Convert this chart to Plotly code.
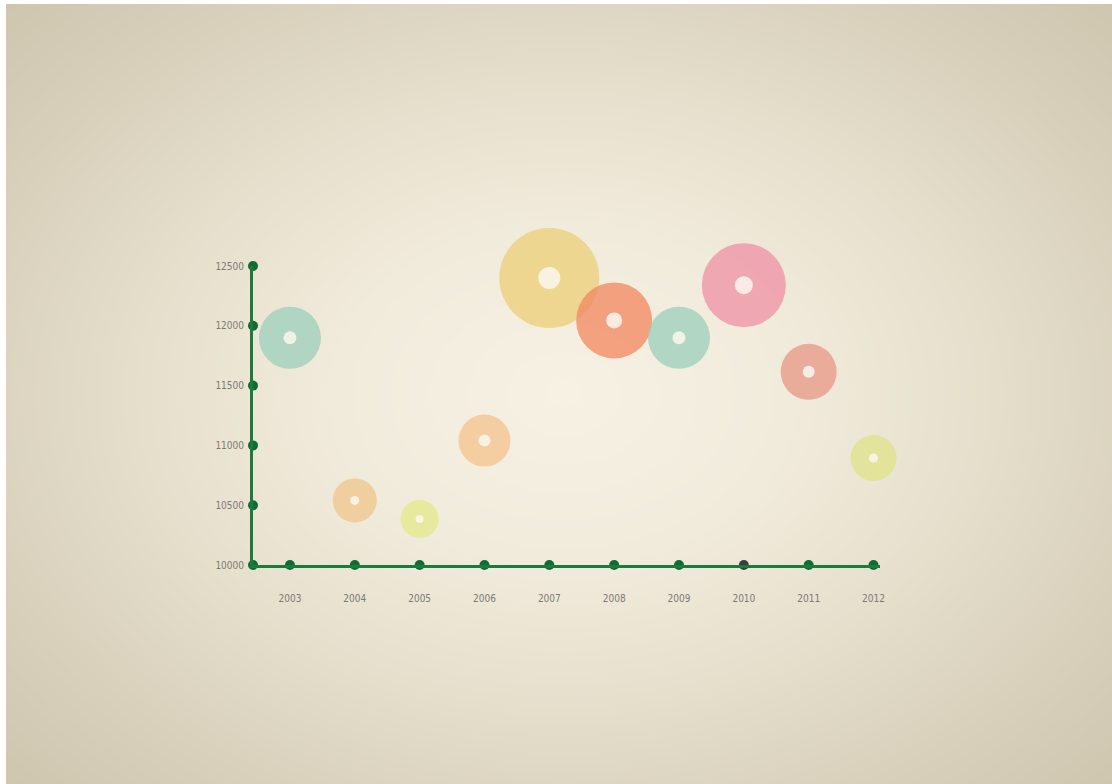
import numpy as np
import plotly.graph_objects as go

# ---- data ----
years = [2003, 2004, 2005, 2006, 2007, 2008, 2009, 2010, 2011, 2012]
values = [11900, 10540, 10385, 11040, 12400, 12045, 11900, 12340, 11615, 10895]
bubble_size = [62, 44, 38, 52, 100, 76, 62, 84, 56, 46]
hole_size = [13, 9, 8, 12, 22, 16, 13, 18, 12, 9]
bubble_colors = ["#9fd0bd", "#f0c78e", "#e4e88a", "#f4c48f", "#ecd07a",
                 "#f28a63", "#9fd0bd", "#ee93a6", "#e89a88", "#e0e38a"]
y_ticks = [10000, 10500, 11000, 11500, 12000, 12500]
y_tick_labels = ["10000", "10500", "11000", "11500", "12000", "12500"]
x_tick_labels = [str(y) for y in years]
dot_colors = ["#116b34"] * 7 + ["#3b3f3c"] + ["#116b34"] * 2

W, H = 1112, 784
X0 = 2002.43   # x-axis origin (where y axis sits)
X1 = 2012.1    # x-axis end

fig = go.Figure()

# ---- background radial gradient (decoration) ----
gx = np.linspace(0, W, 70)
gy = np.linspace(0, H, 50)
GX, GY = np.meshgrid(gx, gy)
cx, cy = 560, H - 392
d = np.sqrt(((GX - cx) / 640.0) ** 2 + ((GY - cy) / 470.0) ** 2)
fig.add_trace(go.Heatmap(
    x=gx, y=gy, z=np.clip(d, 0, 1.2), zsmooth="best", showscale=False,
    hoverinfo="skip", zmin=0, zmax=1.2,
    colorscale=[[0.0, "#f7f1e4"], [0.3, "#f1ebdc"], [0.55, "#e6dfcc"],
                [0.8, "#d8d0bb"], [1.0, "#cec6af"]],
    xaxis="x", yaxis="y"))

# ---- axes dots ----
fig.add_trace(go.Scatter(
    x=[X0] * len(y_ticks), y=y_ticks, mode="markers",
    marker=dict(size=10, color="#116b34"), cliponaxis=False,
    hoverinfo="skip", showlegend=False, xaxis="x2", yaxis="y2"))
fig.add_trace(go.Scatter(
    x=years, y=[10000] * len(years), mode="markers",
    marker=dict(size=10, color=dot_colors), cliponaxis=False,
    hoverinfo="skip", showlegend=False, xaxis="x2", yaxis="y2"))

# ---- bubbles (donuts) ----
fig.add_trace(go.Scatter(
    x=years, y=values, mode="markers",
    marker=dict(size=bubble_size, sizemode="diameter", color=bubble_colors,
                opacity=0.78, line=dict(width=0)),
    cliponaxis=False, showlegend=False, xaxis="x2", yaxis="y2"))
fig.add_trace(go.Scatter(
    x=years, y=values, mode="markers",
    marker=dict(size=hole_size, sizemode="diameter", color="#fbf7ee",
                opacity=0.85, line=dict(width=0)),
    cliponaxis=False, hoverinfo="skip", showlegend=False,
    xaxis="x2", yaxis="y2"))

tick_font = dict(family="Liberation Sans Narrow, DejaVu Sans Condensed, Arial Narrow, sans-serif",
                 size=10, color="#7b7a72")

fig.update_layout(
    width=W, height=H,
    margin=dict(l=0, r=0, t=0, b=0, pad=0, autoexpand=False),
    paper_bgcolor="#ffffff",
    plot_bgcolor="rgba(0,0,0,0)",
    showlegend=False,
    xaxis=dict(domain=[6 / W, 1], range=[0, W], visible=False, fixedrange=True,
               automargin=False),
    yaxis=dict(domain=[0, 1 - 4 / H], range=[0, H], visible=False, fixedrange=True,
               automargin=False),
    xaxis2=dict(domain=[253 / W, 880 / W], range=[X0, X1], anchor="y2",
                showgrid=False, zeroline=False, showline=True, automargin=False,
                linecolor="#1b7a3e", linewidth=3,
                tickvals=years, ticktext=x_tick_labels, ticks="",
                ticklabelstandoff=22, tickfont=tick_font),
    yaxis2=dict(domain=[219 / H, 518 / H], range=[10000, 12500], anchor="x2",
                showgrid=False, zeroline=False, showline=True, automargin=False,
                linecolor="#1b7a3e", linewidth=3,
                tickvals=y_ticks, ticktext=y_tick_labels, ticks="",
                ticklabelstandoff=4, tickfont=tick_font),
)

fig.write_html("out.html")
